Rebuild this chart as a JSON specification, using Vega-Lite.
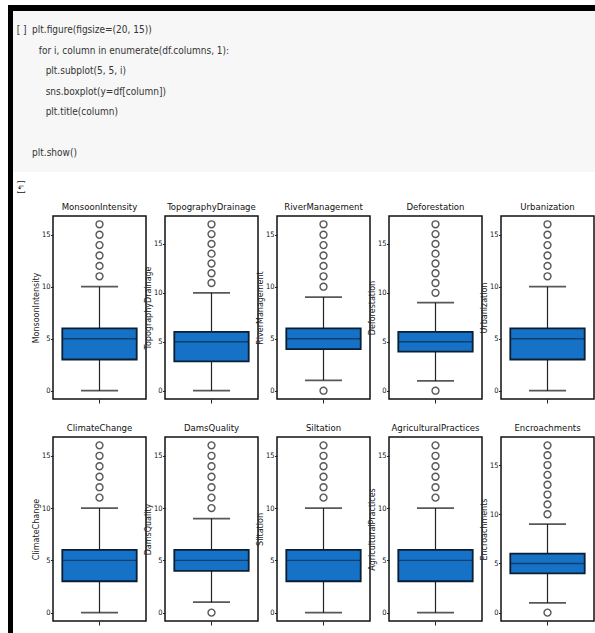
{
"$schema":"https://vega.github.io/schema/vega-lite/v6.json",
"padding":{"left":8,"top":5,"right":0,"bottom":0},
"background":"white",
"spacing":0,
"config":{
 "view":{"stroke":"#111","strokeWidth":1.5},
 "title":{"font":"Liberation Sans Narrow, DejaVu Sans Condensed, sans-serif","fontSize":9.5,"fontWeight":"normal","color":"#111","offset":5},
 "axis":{"labelColor":"#111","tickColor":"#222","titleColor":"#222","grid":false},
 "axisX":{"labels":false,"domain":false,"tickSize":4},
 "axisY":{"domain":false,"tickCount":4,"tickSize":2.5,"labelPadding":0.5,"titlePadding":0.5,"labelFont":"Liberation Sans Narrow, DejaVu Sans Condensed, sans-serif","labelFontSize":7.5,"titleFont":"DejaVu Sans","titleFontSize":8,"titleFontWeight":"normal"}
},
"datasets":{"box":[
 {"name":"MonsoonIntensity","lower":0,"q1":3,"median":5,"q3":6,"upper":10},
 {"name":"TopographyDrainage","lower":0,"q1":3,"median":5,"q3":6,"upper":10},
 {"name":"RiverManagement","lower":1,"q1":4,"median":5,"q3":6,"upper":9},
 {"name":"Deforestation","lower":1,"q1":4,"median":5,"q3":6,"upper":9},
 {"name":"Urbanization","lower":0,"q1":3,"median":5,"q3":6,"upper":10},
 {"name":"ClimateChange","lower":0,"q1":3,"median":5,"q3":6,"upper":10},
 {"name":"DamsQuality","lower":1,"q1":4,"median":5,"q3":6,"upper":9},
 {"name":"Siltation","lower":0,"q1":3,"median":5,"q3":6,"upper":10},
 {"name":"AgriculturalPractices","lower":0,"q1":3,"median":5,"q3":6,"upper":10},
 {"name":"Encroachments","lower":1,"q1":4,"median":5,"q3":6,"upper":9},
 {"name":"MonsoonIntensity","value":11},{"name":"MonsoonIntensity","value":12},{"name":"MonsoonIntensity","value":13},{"name":"MonsoonIntensity","value":14},{"name":"MonsoonIntensity","value":15},{"name":"MonsoonIntensity","value":16},
 {"name":"TopographyDrainage","value":11},{"name":"TopographyDrainage","value":12},{"name":"TopographyDrainage","value":13},{"name":"TopographyDrainage","value":14},{"name":"TopographyDrainage","value":15},{"name":"TopographyDrainage","value":16},{"name":"TopographyDrainage","value":17},
 {"name":"RiverManagement","value":0},{"name":"RiverManagement","value":10},{"name":"RiverManagement","value":11},{"name":"RiverManagement","value":12},{"name":"RiverManagement","value":13},{"name":"RiverManagement","value":14},{"name":"RiverManagement","value":15},{"name":"RiverManagement","value":16},
 {"name":"Deforestation","value":0},{"name":"Deforestation","value":10},{"name":"Deforestation","value":11},{"name":"Deforestation","value":12},{"name":"Deforestation","value":13},{"name":"Deforestation","value":14},{"name":"Deforestation","value":15},{"name":"Deforestation","value":16},{"name":"Deforestation","value":17},
 {"name":"Urbanization","value":11},{"name":"Urbanization","value":12},{"name":"Urbanization","value":13},{"name":"Urbanization","value":14},{"name":"Urbanization","value":15},{"name":"Urbanization","value":16},
 {"name":"ClimateChange","value":11},{"name":"ClimateChange","value":12},{"name":"ClimateChange","value":13},{"name":"ClimateChange","value":14},{"name":"ClimateChange","value":15},{"name":"ClimateChange","value":16},
 {"name":"DamsQuality","value":0},{"name":"DamsQuality","value":10},{"name":"DamsQuality","value":11},{"name":"DamsQuality","value":12},{"name":"DamsQuality","value":13},{"name":"DamsQuality","value":14},{"name":"DamsQuality","value":15},{"name":"DamsQuality","value":16},
 {"name":"Siltation","value":11},{"name":"Siltation","value":12},{"name":"Siltation","value":13},{"name":"Siltation","value":14},{"name":"Siltation","value":15},{"name":"Siltation","value":16},
 {"name":"AgriculturalPractices","value":11},{"name":"AgriculturalPractices","value":12},{"name":"AgriculturalPractices","value":13},{"name":"AgriculturalPractices","value":14},{"name":"AgriculturalPractices","value":15},{"name":"AgriculturalPractices","value":16},
 {"name":"Encroachments","value":0},{"name":"Encroachments","value":10},{"name":"Encroachments","value":11},{"name":"Encroachments","value":12},{"name":"Encroachments","value":13},{"name":"Encroachments","value":14},{"name":"Encroachments","value":15},{"name":"Encroachments","value":16},{"name":"Encroachments","value":17}
]},
"hconcat":[
 {"width":5,"height":628,"data":{"values":[]},"mark":"rule","encoding":{},"view":{"fill":"black","stroke":null}},
 {"spacing":0,"vconcat":[
  {"width":582,"height":6,"data":{"values":[]},"mark":"rule","encoding":{},"view":{"fill":"black","stroke":null}},
  {"spacing":8,"vconcat":[
   {"width":582,"height":161,"view":{"fill":"#f7f7f7","stroke":null},
    "data":{"values":[
     {"line":1,"col":-9,"code":"[ ]"},
     {"line":1,"col":0,"code":"plt.figure(figsize=(20, 15))"},
     {"line":2,"col":4,"code":"for i, column in enumerate(df.columns, 1):"},
     {"line":3,"col":8,"code":"plt.subplot(5, 5, i)"},
     {"line":4,"col":8,"code":"sns.boxplot(y=df[column])"},
     {"line":5,"col":8,"code":"plt.title(column)"},
     {"line":7,"col":0,"code":"plt.show()"}
    ]},
    "mark":{"type":"text","align":"left","baseline":"middle","font":"Liberation Sans Narrow, DejaVu Sans Condensed, sans-serif","fontSize":10,"color":"#333"},
    "encoding":{
     "x":{"field":"col","type":"quantitative","scale":{"domain":[-11.2,331.2],"nice":false,"zero":false},"axis":null},
     "y":{"field":"line","type":"quantitative","scale":{"domain":[0.07,7.93],"nice":false,"zero":false,"reverse":true},"axis":null},
     "text":{"field":"code"}
    }},
   {"spacing":16,"vconcat":[
   {"hconcat":[
     {"width":21,"height":183,"data":{"values":[]},"mark":"rule","encoding":{},"view":{"stroke":null},"title":{"text":"[↳]","font":"DejaVu Sans","fontSize":8,"angle":90,"offset":16}},
     {"width":93,"height":183,"title":"MonsoonIntensity","data":{"name":"box"},"transform":[{"filter":"datum.name === 'MonsoonIntensity'"}],
      "encoding":{"x":{"field":"name","type":"nominal","title":null,"scale":{"paddingInner":0,"paddingOuter":0.125}}},
      "layer":[
       {"mark":{"type":"rule","color":"#222","strokeWidth":1.2},"encoding":{"y":{"field":"lower","type":"quantitative","title":"MonsoonIntensity","scale":{"domain":[-0.8,16.8],"nice":false,"zero":false}},"y2":{"field":"upper"}}},
       {"mark":{"type":"bar","fill":"#1672c6","stroke":"#0a1f33","strokeWidth":1.8},"encoding":{"y":{"field":"q1","type":"quantitative","title":"MonsoonIntensity"},"y2":{"field":"q3"}}},
       {"mark":{"type":"tick","color":"#0d2a45","size":74,"thickness":1.4},"encoding":{"y":{"field":"median","type":"quantitative","title":"MonsoonIntensity"}}},
       {"transform":[{"fold":["lower","upper"],"as":["stat","v"]}],"mark":{"type":"tick","color":"#111","size":37,"thickness":1.8},"encoding":{"y":{"field":"v","type":"quantitative","title":"MonsoonIntensity"}}},
       {"mark":{"type":"point","shape":"circle","filled":false,"color":"#111","size":48,"strokeWidth":1.4},"encoding":{"y":{"field":"value","type":"quantitative","title":"MonsoonIntensity"}}}
      ]},
     {"width":93,"height":183,"title":"TopographyDrainage","data":{"name":"box"},"transform":[{"filter":"datum.name === 'TopographyDrainage'"}],
      "encoding":{"x":{"field":"name","type":"nominal","title":null,"scale":{"paddingInner":0,"paddingOuter":0.125}}},
      "layer":[
       {"mark":{"type":"rule","color":"#222","strokeWidth":1.2},"encoding":{"y":{"field":"lower","type":"quantitative","title":"TopographyDrainage","scale":{"domain":[-0.85,17.85],"nice":false,"zero":false}},"y2":{"field":"upper"}}},
       {"mark":{"type":"bar","fill":"#1672c6","stroke":"#0a1f33","strokeWidth":1.8},"encoding":{"y":{"field":"q1","type":"quantitative","title":"TopographyDrainage"},"y2":{"field":"q3"}}},
       {"mark":{"type":"tick","color":"#0d2a45","size":74,"thickness":1.4},"encoding":{"y":{"field":"median","type":"quantitative","title":"TopographyDrainage"}}},
       {"transform":[{"fold":["lower","upper"],"as":["stat","v"]}],"mark":{"type":"tick","color":"#111","size":37,"thickness":1.8},"encoding":{"y":{"field":"v","type":"quantitative","title":"TopographyDrainage"}}},
       {"mark":{"type":"point","shape":"circle","filled":false,"color":"#111","size":48,"strokeWidth":1.4},"encoding":{"y":{"field":"value","type":"quantitative","title":"TopographyDrainage"}}}
      ]},
     {"width":93,"height":183,"title":"RiverManagement","data":{"name":"box"},"transform":[{"filter":"datum.name === 'RiverManagement'"}],
      "encoding":{"x":{"field":"name","type":"nominal","title":null,"scale":{"paddingInner":0,"paddingOuter":0.125}}},
      "layer":[
       {"mark":{"type":"rule","color":"#222","strokeWidth":1.2},"encoding":{"y":{"field":"lower","type":"quantitative","title":"RiverManagement","scale":{"domain":[-0.8,16.8],"nice":false,"zero":false}},"y2":{"field":"upper"}}},
       {"mark":{"type":"bar","fill":"#1672c6","stroke":"#0a1f33","strokeWidth":1.8},"encoding":{"y":{"field":"q1","type":"quantitative","title":"RiverManagement"},"y2":{"field":"q3"}}},
       {"mark":{"type":"tick","color":"#0d2a45","size":74,"thickness":1.4},"encoding":{"y":{"field":"median","type":"quantitative","title":"RiverManagement"}}},
       {"transform":[{"fold":["lower","upper"],"as":["stat","v"]}],"mark":{"type":"tick","color":"#111","size":37,"thickness":1.8},"encoding":{"y":{"field":"v","type":"quantitative","title":"RiverManagement"}}},
       {"mark":{"type":"point","shape":"circle","filled":false,"color":"#111","size":48,"strokeWidth":1.4},"encoding":{"y":{"field":"value","type":"quantitative","title":"RiverManagement"}}}
      ]},
     {"width":93,"height":183,"title":"Deforestation","data":{"name":"box"},"transform":[{"filter":"datum.name === 'Deforestation'"}],
      "encoding":{"x":{"field":"name","type":"nominal","title":null,"scale":{"paddingInner":0,"paddingOuter":0.125}}},
      "layer":[
       {"mark":{"type":"rule","color":"#222","strokeWidth":1.2},"encoding":{"y":{"field":"lower","type":"quantitative","title":"Deforestation","scale":{"domain":[-0.85,17.85],"nice":false,"zero":false}},"y2":{"field":"upper"}}},
       {"mark":{"type":"bar","fill":"#1672c6","stroke":"#0a1f33","strokeWidth":1.8},"encoding":{"y":{"field":"q1","type":"quantitative","title":"Deforestation"},"y2":{"field":"q3"}}},
       {"mark":{"type":"tick","color":"#0d2a45","size":74,"thickness":1.4},"encoding":{"y":{"field":"median","type":"quantitative","title":"Deforestation"}}},
       {"transform":[{"fold":["lower","upper"],"as":["stat","v"]}],"mark":{"type":"tick","color":"#111","size":37,"thickness":1.8},"encoding":{"y":{"field":"v","type":"quantitative","title":"Deforestation"}}},
       {"mark":{"type":"point","shape":"circle","filled":false,"color":"#111","size":48,"strokeWidth":1.4},"encoding":{"y":{"field":"value","type":"quantitative","title":"Deforestation"}}}
      ]},
     {"width":93,"height":183,"title":"Urbanization","data":{"name":"box"},"transform":[{"filter":"datum.name === 'Urbanization'"}],
      "encoding":{"x":{"field":"name","type":"nominal","title":null,"scale":{"paddingInner":0,"paddingOuter":0.125}}},
      "layer":[
       {"mark":{"type":"rule","color":"#222","strokeWidth":1.2},"encoding":{"y":{"field":"lower","type":"quantitative","title":"Urbanization","scale":{"domain":[-0.8,16.8],"nice":false,"zero":false}},"y2":{"field":"upper"}}},
       {"mark":{"type":"bar","fill":"#1672c6","stroke":"#0a1f33","strokeWidth":1.8},"encoding":{"y":{"field":"q1","type":"quantitative","title":"Urbanization"},"y2":{"field":"q3"}}},
       {"mark":{"type":"tick","color":"#0d2a45","size":74,"thickness":1.4},"encoding":{"y":{"field":"median","type":"quantitative","title":"Urbanization"}}},
       {"transform":[{"fold":["lower","upper"],"as":["stat","v"]}],"mark":{"type":"tick","color":"#111","size":37,"thickness":1.8},"encoding":{"y":{"field":"v","type":"quantitative","title":"Urbanization"}}},
       {"mark":{"type":"point","shape":"circle","filled":false,"color":"#111","size":48,"strokeWidth":1.4},"encoding":{"y":{"field":"value","type":"quantitative","title":"Urbanization"}}}
      ]}
    ],"spacing":19,"bounds":"flush"},
   {"spacing":11,"vconcat":[
    {"hconcat":[
     {"width":21,"height":184,"data":{"values":[]},"mark":"rule","encoding":{},"view":{"stroke":null}},
     {"width":93,"height":184,"title":"ClimateChange","data":{"name":"box"},"transform":[{"filter":"datum.name === 'ClimateChange'"}],
      "encoding":{"x":{"field":"name","type":"nominal","title":null,"scale":{"paddingInner":0,"paddingOuter":0.125}}},
      "layer":[
       {"mark":{"type":"rule","color":"#222","strokeWidth":1.2},"encoding":{"y":{"field":"lower","type":"quantitative","title":"ClimateChange","scale":{"domain":[-0.8,16.8],"nice":false,"zero":false}},"y2":{"field":"upper"}}},
       {"mark":{"type":"bar","fill":"#1672c6","stroke":"#0a1f33","strokeWidth":1.8},"encoding":{"y":{"field":"q1","type":"quantitative","title":"ClimateChange"},"y2":{"field":"q3"}}},
       {"mark":{"type":"tick","color":"#0d2a45","size":74,"thickness":1.4},"encoding":{"y":{"field":"median","type":"quantitative","title":"ClimateChange"}}},
       {"transform":[{"fold":["lower","upper"],"as":["stat","v"]}],"mark":{"type":"tick","color":"#111","size":37,"thickness":1.8},"encoding":{"y":{"field":"v","type":"quantitative","title":"ClimateChange"}}},
       {"mark":{"type":"point","shape":"circle","filled":false,"color":"#111","size":48,"strokeWidth":1.4},"encoding":{"y":{"field":"value","type":"quantitative","title":"ClimateChange"}}}
      ]},
     {"width":93,"height":184,"title":"DamsQuality","data":{"name":"box"},"transform":[{"filter":"datum.name === 'DamsQuality'"}],
      "encoding":{"x":{"field":"name","type":"nominal","title":null,"scale":{"paddingInner":0,"paddingOuter":0.125}}},
      "layer":[
       {"mark":{"type":"rule","color":"#222","strokeWidth":1.2},"encoding":{"y":{"field":"lower","type":"quantitative","title":"DamsQuality","scale":{"domain":[-0.8,16.8],"nice":false,"zero":false}},"y2":{"field":"upper"}}},
       {"mark":{"type":"bar","fill":"#1672c6","stroke":"#0a1f33","strokeWidth":1.8},"encoding":{"y":{"field":"q1","type":"quantitative","title":"DamsQuality"},"y2":{"field":"q3"}}},
       {"mark":{"type":"tick","color":"#0d2a45","size":74,"thickness":1.4},"encoding":{"y":{"field":"median","type":"quantitative","title":"DamsQuality"}}},
       {"transform":[{"fold":["lower","upper"],"as":["stat","v"]}],"mark":{"type":"tick","color":"#111","size":37,"thickness":1.8},"encoding":{"y":{"field":"v","type":"quantitative","title":"DamsQuality"}}},
       {"mark":{"type":"point","shape":"circle","filled":false,"color":"#111","size":48,"strokeWidth":1.4},"encoding":{"y":{"field":"value","type":"quantitative","title":"DamsQuality"}}}
      ]},
     {"width":93,"height":184,"title":"Siltation","data":{"name":"box"},"transform":[{"filter":"datum.name === 'Siltation'"}],
      "encoding":{"x":{"field":"name","type":"nominal","title":null,"scale":{"paddingInner":0,"paddingOuter":0.125}}},
      "layer":[
       {"mark":{"type":"rule","color":"#222","strokeWidth":1.2},"encoding":{"y":{"field":"lower","type":"quantitative","title":"Siltation","scale":{"domain":[-0.8,16.8],"nice":false,"zero":false}},"y2":{"field":"upper"}}},
       {"mark":{"type":"bar","fill":"#1672c6","stroke":"#0a1f33","strokeWidth":1.8},"encoding":{"y":{"field":"q1","type":"quantitative","title":"Siltation"},"y2":{"field":"q3"}}},
       {"mark":{"type":"tick","color":"#0d2a45","size":74,"thickness":1.4},"encoding":{"y":{"field":"median","type":"quantitative","title":"Siltation"}}},
       {"transform":[{"fold":["lower","upper"],"as":["stat","v"]}],"mark":{"type":"tick","color":"#111","size":37,"thickness":1.8},"encoding":{"y":{"field":"v","type":"quantitative","title":"Siltation"}}},
       {"mark":{"type":"point","shape":"circle","filled":false,"color":"#111","size":48,"strokeWidth":1.4},"encoding":{"y":{"field":"value","type":"quantitative","title":"Siltation"}}}
      ]},
     {"width":93,"height":184,"title":"AgriculturalPractices","data":{"name":"box"},"transform":[{"filter":"datum.name === 'AgriculturalPractices'"}],
      "encoding":{"x":{"field":"name","type":"nominal","title":null,"scale":{"paddingInner":0,"paddingOuter":0.125}}},
      "layer":[
       {"mark":{"type":"rule","color":"#222","strokeWidth":1.2},"encoding":{"y":{"field":"lower","type":"quantitative","title":"AgriculturalPractices","scale":{"domain":[-0.8,16.8],"nice":false,"zero":false}},"y2":{"field":"upper"}}},
       {"mark":{"type":"bar","fill":"#1672c6","stroke":"#0a1f33","strokeWidth":1.8},"encoding":{"y":{"field":"q1","type":"quantitative","title":"AgriculturalPractices"},"y2":{"field":"q3"}}},
       {"mark":{"type":"tick","color":"#0d2a45","size":74,"thickness":1.4},"encoding":{"y":{"field":"median","type":"quantitative","title":"AgriculturalPractices"}}},
       {"transform":[{"fold":["lower","upper"],"as":["stat","v"]}],"mark":{"type":"tick","color":"#111","size":37,"thickness":1.8},"encoding":{"y":{"field":"v","type":"quantitative","title":"AgriculturalPractices"}}},
       {"mark":{"type":"point","shape":"circle","filled":false,"color":"#111","size":48,"strokeWidth":1.4},"encoding":{"y":{"field":"value","type":"quantitative","title":"AgriculturalPractices"}}}
      ]},
     {"width":93,"height":184,"title":"Encroachments","data":{"name":"box"},"transform":[{"filter":"datum.name === 'Encroachments'"}],
      "encoding":{"x":{"field":"name","type":"nominal","title":null,"scale":{"paddingInner":0,"paddingOuter":0.125}}},
      "layer":[
       {"mark":{"type":"rule","color":"#222","strokeWidth":1.2},"encoding":{"y":{"field":"lower","type":"quantitative","title":"Encroachments","scale":{"domain":[-0.85,17.85],"nice":false,"zero":false}},"y2":{"field":"upper"}}},
       {"mark":{"type":"bar","fill":"#1672c6","stroke":"#0a1f33","strokeWidth":1.8},"encoding":{"y":{"field":"q1","type":"quantitative","title":"Encroachments"},"y2":{"field":"q3"}}},
       {"mark":{"type":"tick","color":"#0d2a45","size":74,"thickness":1.4},"encoding":{"y":{"field":"median","type":"quantitative","title":"Encroachments"}}},
       {"transform":[{"fold":["lower","upper"],"as":["stat","v"]}],"mark":{"type":"tick","color":"#111","size":37,"thickness":1.8},"encoding":{"y":{"field":"v","type":"quantitative","title":"Encroachments"}}},
       {"mark":{"type":"point","shape":"circle","filled":false,"color":"#111","size":48,"strokeWidth":1.4},"encoding":{"y":{"field":"value","type":"quantitative","title":"Encroachments"}}}
      ]}
    ],"spacing":19,"bounds":"flush"},
    {"width":582,"height":2,"data":{"values":[]},"mark":"rule","encoding":{},"view":{"fill":"#999","stroke":null}}
   ]}
   ]}
  ]}
 ]}
]
}
